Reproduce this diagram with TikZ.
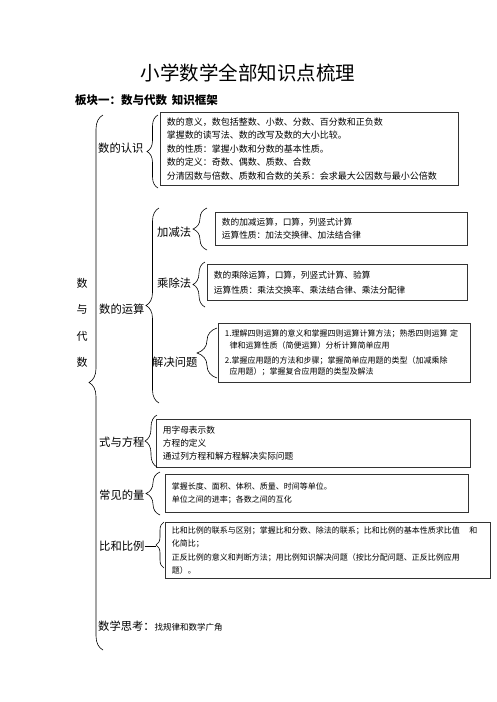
\documentclass[tikz,border=0pt]{standalone}
\usepackage{fontspec}
\newfontfamily\cjk{Noto Sans CJK SC}
\usetikzlibrary{decorations.pathreplacing}

\begin{document}
\begin{tikzpicture}[
  x=1pt, y=-1pt, % Pixelkoordinaten, y nach unten
  font=\cjk,
  kasten/.style 2 args={draw=black!80, line width=0.7pt, anchor=north west, align=left,
    inner xsep=6.5pt, inner ysep=0pt, text width=#1, minimum height=#2,
    font=\cjk\fontsize{8.7}{13}\selectfont},
  thema/.style={anchor=west, inner sep=0pt, font=\cjk\fontsize{11.3}{12}\selectfont},
  klammer/.style={decorate, decoration={brace, amplitude=#1}, line width=0.6pt}
  ]
\useasboundingbox (0,0) rectangle (496,702);
% Ueberschriften
\node (titel) at (248,73) {\fontsize{19.5}{20}\selectfont 小学数学全部知识点梳理};
\node[anchor=west, inner sep=0pt] (block) at (75,100)
  {\bfseries\fontsize{11.5}{12}\selectfont 板块一：数与代数\hspace{0.4em}知识框架};
% senkrechter Titel
\foreach \z/\y [count=\i] in {数/283,与/309,代/336,数/362}
  \node[font=\cjk\fontsize{11}{12}\selectfont] (sd\i) at (82,\y) {\z};
% Themen
\node[thema] (renshi) at (98,148) {数的认识};
\node[thema] (yunsuan) at (99,309) {数的运算};
\node[thema] (jiajian) at (157,232) {加减法};
\node[thema] (chengchu) at (157,283) {乘除法};
\node[thema] (jiejue) at (152,362) {解决问题};
\node[thema] (fangcheng) at (99,442) {式与方程};
\node[thema] (liang) at (99,495) {常见的量};
\node[thema] (bili) at (99,546) {比和比例};
\node[anchor=west, inner sep=0pt] (sikao) at (98,626)
  {{\fontsize{11.3}{12}\selectfont 数学思考：}{\fontsize{8.5}{10}\selectfont 找规律和数学广角}};
% Kaesten
\node[kasten={285}{73}, font=\cjk\fontsize{9}{13.5}\selectfont] (k1) at (160,112)
  {数的意义，数包括整数、小数、分数、百分数和正负数\\掌握数的读写法、数的改写及数的大小比较。\\数的性质：掌握小数和分数的基本性质。\\数的定义：奇数、偶数、质数、合数\\分清因数与倍数、质数和合数的关系：会求最大公因数与最小公倍数};
\node[kasten={239}{33}] (k2) at (215,212)
  {数的加减运算，口算，列竖式计算\\运算性质：加法交换律、加法结合律};
\node[kasten={247}{36}, font=\cjk\fontsize{8.7}{15}\selectfont] (k3) at (207,264)
  {数的乘除运算，口算，列竖式计算、验算\\运算性质：乘法交换率、乘法结合律、乘法分配律};
\node[kasten={239}{59}, font=\cjk\fontsize{8}{11.5}\selectfont] (k4) at (218,323)
  {1.理解四则运算的意义和掌握四则运算计算方法；熟悉四则运算\ 定\\\hspace*{0.6em}律和运算性质（简便运算）分析计算简单应用\\[3.5pt]2.掌握应用题的方法和步骤；掌握简单应用题的类型（加减乘除\\\hspace*{0.6em}应用题）；掌握复合应用题的类型及解法};
\node[kasten={301}{48}] (k5) at (156,419)
  {用字母表示数\\方程的定义\\通过列方程和解方程解决实际问题};
\node[kasten={290}{38}, font=\cjk\fontsize{8}{13}\selectfont] (k6) at (165,474)
  {掌握长度、面积、体积、质量、时间等单位。\\单位之间的进率；各数之间的互化};
\node[kasten={312}{56}, font=\cjk\fontsize{8}{13.3}\selectfont] (k7) at (165,522)
  {比和比例的联系与区别；掌握比和分数、除法的联系；比和比例的基本性质求比值\hspace{1.2em}和\\化简比；\\正反比例的意义和判断方法；用比例知识解决问题（按比分配问题、正反比例应用\\题）。};
% Klammern
\draw[klammer=14] (103,650) -- (103,115);
\draw[klammer=11] (158,188) -- (158,115);
\draw[klammer=13] (159,403) -- (159,208);
\draw[klammer=14] (207,250) -- (207,208);
\draw[klammer=12] (205,307) -- (205,262);
\draw[klammer=20] (217,378) -- (217,328);
\draw[klammer=12] (157,467) -- (157,415);
\draw[klammer=14] (160,515) -- (160,472);
\draw[klammer=8] (164,568) -- (164,522);
\coordinate (bilispitze) at (156,546);
\draw[line width=0.6pt] (bili.east) -- (bilispitze);
\end{tikzpicture}
\end{document}
